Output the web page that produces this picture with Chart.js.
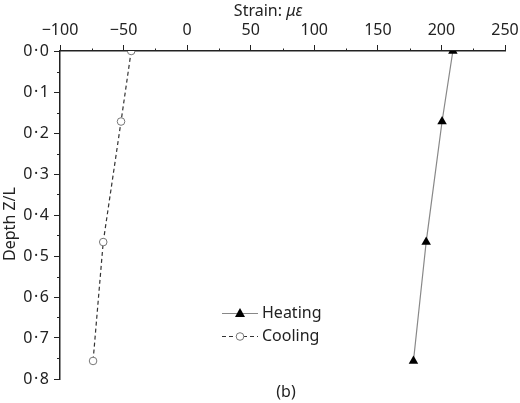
<!DOCTYPE html>
<html>
<head>
<meta charset="utf-8">
<script src="https://cdn.jsdelivr.net/npm/chart.js@4.4.1/dist/chart.umd.min.js"></script>
<style>
  html, body { margin: 0; padding: 0; background: #fff; }
  #wrap { width: 520px; height: 403px; }
</style>
</head>
<body>
<div id="wrap"><canvas id="chart" width="520" height="403"></canvas></div>
<script>
// data
var depth = [0, 0.172, 0.466, 0.756];
var heating = [209, 200.5, 188, 178];
var cooling = [-44, -52, -66, -74];
var xTicks = [-100, -50, 0, 50, 100, 150, 200, 250];
var seriesNames = ['Heating', 'Cooling'];

var FONT = '"Noto Sans", "Open Sans", sans-serif';
var INK = '#222';

function pts(vals) {
  var out = [];
  for (var i = 0; i < vals.length; i++) {
    out.push({ x: vals[i], y: depth[i] });
  }
  return out;
}

function dot(v) {
  return v.toFixed(1).replace('.', '\u200a\u00b7\u200a');
}

function minus(v) {
  return v < 0 ? '\u2212' + Math.abs(v) : '' + v;
}

// minor ticks, legend, titles
var extras = {
  id: 'extras',
  afterDraw: function(chart) {
    var c = chart.ctx;
    var xs = chart.scales.x, ys = chart.scales.y;
    c.save();
    c.strokeStyle = INK;
    c.lineWidth = 1;
    c.beginPath();
    for (var v = -75; v < 250; v += 50) {
      var px = Math.round(xs.getPixelForValue(v)) + 0.5;
      c.moveTo(px, xs.bottom);
      c.lineTo(px, xs.bottom - 2.5);
    }
    for (var d = 0.05; d < 0.8; d += 0.1) {
      var py = Math.round(ys.getPixelForValue(d)) + 0.5;
      c.moveTo(ys.right, py);
      c.lineTo(ys.right - 3, py);
    }
    c.stroke();

    // x title with italic symbol
    c.fillStyle = INK;
    c.textBaseline = 'middle';
    c.font = '16px ' + FONT;
    var a = 'Strain: ';
    var wa = c.measureText(a).width;
    c.font = 'italic 16px ' + FONT;
    var b = '\u03bc\u03b5';
    var wb = c.measureText(b).width;
    var x0 = 268 - (wa + wb) / 2;
    c.font = '16px ' + FONT;
    c.textAlign = 'left';
    c.fillText(a, x0, 11);
    c.font = 'italic 16px ' + FONT;
    c.fillText(b, x0 + wa, 11);

    // y title
    c.save();
    c.translate(10, 224);
    c.rotate(-Math.PI / 2);
    c.textAlign = 'center';
    c.font = '16px ' + FONT;
    c.fillText('Depth Z/L', 0, 0);
    c.restore();

    // legend
    var rows = [313, 336];
    c.font = '16px ' + FONT;
    for (var i = 0; i < 2; i++) {
      var y = rows[i];
      c.beginPath();
      if (i == 0) {
        c.strokeStyle = '#888';
        c.setLineDash([]);
        c.lineWidth = 1.2;
      } else {
        c.strokeStyle = '#333';
        c.setLineDash([4, 3]);
        c.lineWidth = 1.2;
      }
      c.moveTo(222, y + 0.5);
      c.lineTo(258, y + 0.5);
      c.stroke();
      c.setLineDash([]);
      if (i == 0) {
        c.fillStyle = '#000';
        c.beginPath();
        c.moveTo(240, y - 5);
        c.lineTo(245, y + 4);
        c.lineTo(235, y + 4);
        c.closePath();
        c.fill();
      } else {
        c.fillStyle = '#fff';
        c.strokeStyle = '#777';
        c.lineWidth = 1;
        c.beginPath();
        c.arc(240, y + 0.5, 3.8, 0, Math.PI * 2);
        c.fill();
        c.stroke();
      }
      c.fillStyle = INK;
      c.textAlign = 'left';
      c.fillText(seriesNames[i], 262, y);
    }

    c.textAlign = 'center';
    c.font = '16px ' + FONT;
    c.fillText('(b)', 286, 392);
    c.restore();
  }
};

window.onload = function() {
  var ctx = document.getElementById('chart').getContext('2d');
  window.strainChart = new Chart(ctx, {
    type: 'scatter',
    data: {
      datasets: [{
        label: seriesNames[0],
        data: pts(heating),
        showLine: true,
        clip: 0,
        borderColor: '#888',
        borderWidth: 1.2,
        pointStyle: 'triangle',
        pointRadius: 5.5,
        pointBackgroundColor: '#000',
        pointBorderColor: '#000',
        pointBorderWidth: 0
      },
      {
        label: seriesNames[1],
        data: pts(cooling),
        showLine: true,
        clip: 0,
        borderColor: '#333',
        borderWidth: 1.2,
        borderDash: [4, 3],
        pointStyle: 'circle',
        pointRadius: 3.8,
        pointBackgroundColor: '#fff',
        pointBorderColor: '#777',
        pointBorderWidth: 1
      }]
    },
    options: {
      responsive: false,
      animation: false,
      layout: { padding: { left: 22, right: 15, top: 0, bottom: 24 } },
      plugins: {
        legend: { display: false },
        tooltip: { enabled: false }
      },
      scales: {
        x: {
          type: 'linear',
          position: 'top',
          min: -100,
          max: 250,
          afterBuildTicks: function(scale) {
            scale.ticks = xTicks.map(function(v) { return { value: v }; });
          },
          afterFit: function(scale) {
            scale.height = 51;
            scale.paddingLeft = 0;
            scale.paddingRight = 0;
          },
          grid: { drawOnChartArea: false, tickLength: 6, tickColor: INK, tickWidth: 1 },
          border: { color: INK, width: 1.5 },
          ticks: {
            padding: 5,
            maxRotation: 0,
            color: INK,
            font: { family: FONT, size: 16 },
            callback: function(v) { return minus(v); }
          }
        },
        y: {
          type: 'linear',
          reverse: true,
          min: 0,
          max: 0.8,
          afterFit: function(scale) {
            scale.width = 38;
            scale.paddingTop = 0;
            scale.paddingBottom = 0;
          },
          grid: { drawOnChartArea: false, tickLength: 6, tickColor: INK, tickWidth: 1 },
          border: { color: INK, width: 1.5 },
          ticks: {
            stepSize: 0.1,
            padding: 5,
            color: INK,
            font: { family: FONT, size: 16 },
            callback: function(v) { return dot(v); }
          }
        }
      }
    },
    plugins: [extras]
  });
};
</script>
</body>
</html>
